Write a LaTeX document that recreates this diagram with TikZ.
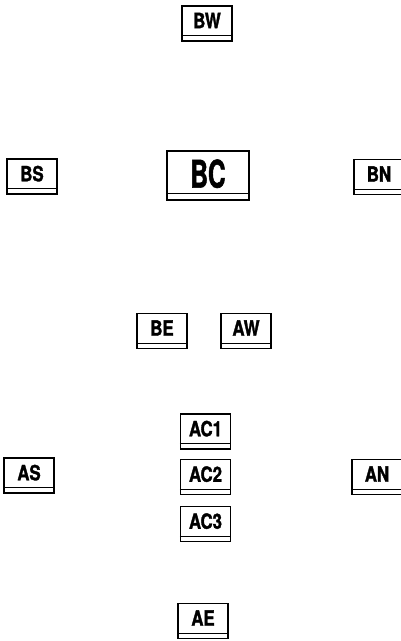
\documentclass[tikz,border=0pt]{standalone}
\usepackage{fontspec}
\setmainfont{TeX Gyre Heros}
\newfontfamily\unitfont{TeX Gyre Heros}[UprightFont={* Bold}, FakeBold=1.5, FakeStretch=0.8]
\usetikzlibrary{positioning}

\newcommand{\unitname}[1]{{\unitfont\fontsize{21}{22}\selectfont #1}}

\tikzset{
  unit/.style={draw, line width=1.4pt, rectangle, inner sep=0pt,
    minimum width=50pt, minimum height=35pt, text depth=6pt},
  strip/.style={line width=1.2pt}
}

\begin{document}
\begin{tikzpicture}[x=1pt,y=1pt]
        \useasboundingbox (0,0) rectangle (401,-641);

        % the big centre box
        \node[unit, minimum width=82pt, minimum height=49pt, text depth=4pt] (bc) at (208,-175.5)
          {\scalebox{0.8}[1]{\unitfont\fontsize{38}{39}\selectfont BC}};
        \draw[strip] ([yshift=7pt]bc.south west) -- ([yshift=7pt]bc.south east);

        % the small boxes
        \foreach \n/\x/\y/\t in {bw/207/23.5/BW, bs/32/176.5/BS, bn/379/177/BN,
                                 be/162/331/BE, aw/246/331/AW,
                                 ac1/205.5/431.5/AC1, ac2/205.5/477/AC2, ac3/205.5/524/AC3,
                                 as/29/475.5/AS, an/377/477/AN, ae/203/621/AE}
        {
          \node[unit] (\n) at (\x,-\y) {\unitname{\t}};
          \draw[strip] ([yshift=6pt]\n.south west) -- ([yshift=6pt]\n.south east);
        }
    \end{tikzpicture}
\end{document}
